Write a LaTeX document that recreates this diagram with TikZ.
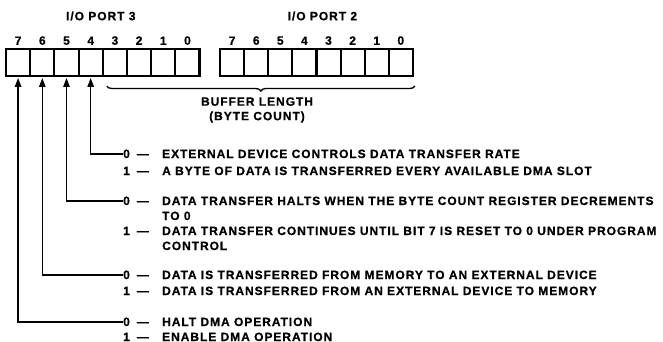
\documentclass[tikz,border=0pt]{standalone}
\usepackage{fontspec}
\setmainfont{Liberation Sans}[LetterSpace=8,BoldFeatures={FakeBold=0.8}]
\usetikzlibrary{arrows.meta,positioning,decorations.pathreplacing}

\begin{document}
\begin{tikzpicture}[
  x=1pt,y=1pt,
  font=\bfseries\fontsize{12}{14.5}\selectfont,
  cell/.style={draw,line width=2pt,minimum width=24.2pt,minimum height=27pt,
    inner sep=0pt,outer sep=0pt},
  frame/.style={draw,line width=2.6pt},
  bitno/.style={above=4pt of #1,inner sep=0pt},
  desc/.style={anchor=west,inner sep=0pt,text height=8pt,text depth=0pt},
  arrow/.style={-{Triangle[length=9pt,width=6.5pt]},line width=1.3pt},
  brace/.style={decorate,decoration={brace,mirror,amplitude=5pt},line width=1.3pt}
]
  \useasboundingbox (0,0) rectangle (663,-342);

  % I/O port 3 and I/O port 2, bit 7 on the left
  \foreach \b [count=\i from 0] in {7,6,5,4,3,2,1,0} {
    \node[cell] (p3c\b) at (18.1+24.2*\i,-62.5) {};
    \node[bitno=p3c\b] (p3n\b) {\b};
    \node[cell] (p2c\b) at (232.1+24.1*\i,-62.5) {};
    \node[bitno=p2c\b] (p2n\b) {\b};
  }
  \draw[frame] (p3c7.north west) rectangle (p3c0.south east);
  \draw[frame] (p2c7.north west) rectangle (p2c0.south east);

  \node (p3t) at ([xshift=-2pt]p3c3.north west |- 0,-16) {I/O PORT 3};
  \node (p2t) at ([xshift=6pt]p2c3.north west |- 0,-16) {I/O PORT 2};

  % buffer length brace
  \draw[brace] ([xshift=4pt,yshift=-10pt]p3c3.south west) -- ([xshift=2pt,yshift=-10pt]p2c0.south east);
  \node[align=center,inner sep=0pt] (buf) at (257,-110) {BUFFER LENGTH\\(BYTE COUNT)};

  % bit 4
  \node[desc] (k4a) at (123,-154) {0\hspace{7pt}—};
  \node[desc] (t4a) at (162,-154) {EXTERNAL DEVICE CONTROLS DATA TRANSFER RATE};
  \node[desc] (k4b) at (123,-171) {1\hspace{7pt}—};
  \node[desc] (t4b) at (162,-171) {A BYTE OF DATA IS TRANSFERRED EVERY AVAILABLE DMA SLOT};
  % bit 5
  \node[desc] (k5a) at (123,-201) {0\hspace{7pt}—};
  \node[desc] (t5a) at (162,-201) {DATA TRANSFER HALTS WHEN THE BYTE COUNT REGISTER DECREMENTS};
  \node[desc] (t5b) at (162,-216) {TO 0};
  \node[desc] (k5b) at (123,-231) {1\hspace{7pt}—};
  \node[desc] (t5c) at (162,-231) {DATA TRANSFER CONTINUES UNTIL BIT 7 IS RESET TO 0 UNDER PROGRAM};
  \node[desc] (t5d) at (162,-246) {CONTROL};
  % bit 6
  \node[desc] (k6a) at (123,-275) {0\hspace{7pt}—};
  \node[desc] (t6a) at (162,-275) {DATA IS TRANSFERRED FROM MEMORY TO AN EXTERNAL DEVICE};
  \node[desc] (k6b) at (123,-291) {1\hspace{7pt}—};
  \node[desc] (t6b) at (162,-291) {DATA IS TRANSFERRED FROM AN EXTERNAL DEVICE TO MEMORY};
  % bit 7
  \node[desc] (k7a) at (123,-322) {0\hspace{7pt}—};
  \node[desc] (t7a) at (162,-322) {HALT DMA OPERATION};
  \node[desc] (k7b) at (123,-337) {1\hspace{7pt}—};
  \node[desc] (t7b) at (162,-337) {ENABLE DMA OPERATION};

  \draw[arrow] (k4a.west) -| ([yshift=-2pt]p3c4.south);
  \draw[arrow] (k5a.west) -| ([yshift=-2pt]p3c5.south);
  \draw[arrow] (k6a.west) -| ([yshift=-2pt]p3c6.south);
  \draw[arrow] (k7a.west) -| ([yshift=-2pt]p3c7.south);
\end{tikzpicture}
\end{document}
